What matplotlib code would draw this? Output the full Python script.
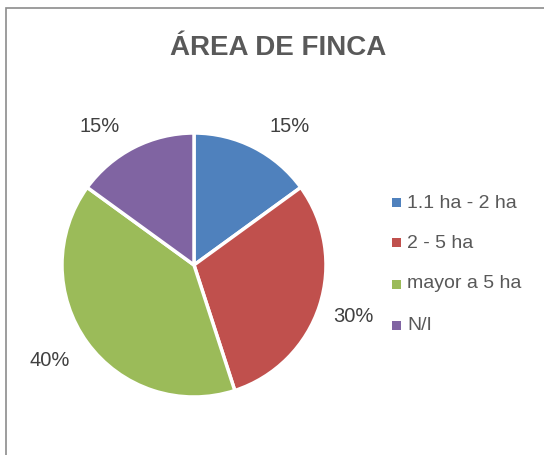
import matplotlib
matplotlib.use("Agg")
import matplotlib.pyplot as plt
from matplotlib.patches import Rectangle

categories = ["1.1 ha - 2 ha", "2 - 5 ha", "mayor a 5 ha", "N/I"]
values = [15, 30, 40, 15]
labels = ["15%", "30%", "40%", "15%"]
colors = ["#4F81BD", "#C0504D", "#9BBB59", "#8064A2"]

plt.rcParams['font.family'] = ['Liberation Sans', 'DejaVu Sans']

fig = plt.figure(figsize=(5.44, 4.55), dpi=100)
fig.patches.append(Rectangle((6/544, -0.1), 1.2, (455-8)/455 + 0.1, transform=fig.transFigure,
                             fill=False, edgecolor="#8c8c8c", linewidth=1.2))

R = 132
CX, CY = 194, 265
ax = fig.add_axes([(CX-R)/544, (455-CY-R)/455, 2*R/544, 2*R/455])
wedges, texts = ax.pie(values, colors=colors, startangle=90, counterclock=False,
                       labels=labels,
                       wedgeprops=dict(edgecolor="white", linewidth=2.5),
                       textprops=dict(fontsize=14.5, color="#404040"))
ax.set_xlim(-1, 1)
ax.set_ylim(-1, 1)
ax.set_aspect('equal')

label_px = [(290, 127), (353, 317), (50, 360), (100, 127)]
for t, (px, py) in zip(texts, label_px):
    t.set_position(((px - CX)/R, (CY - py)/R))
    t.set_ha("center")
    t.set_va("center")
    t.set_clip_on(False)

fig.text(278/544, 1 - 48/455, "ÁREA DE FINCA", ha="center", va="center",
         fontsize=20, fontweight="bold", color="#595959")

ys = [203, 243, 284, 325]
for c, name, y in zip(colors, categories, ys):
    fig.patches.append(Rectangle((392/544, 1 - (y + 4.5)/455), 9/544, 9/455,
                                 transform=fig.transFigure, facecolor=c, edgecolor="none"))
    fig.text(407/544, 1 - y/455, name, ha="left", va="center", fontsize=14,
             color="#595959")

fig.savefig("out.png", dpi=100)
